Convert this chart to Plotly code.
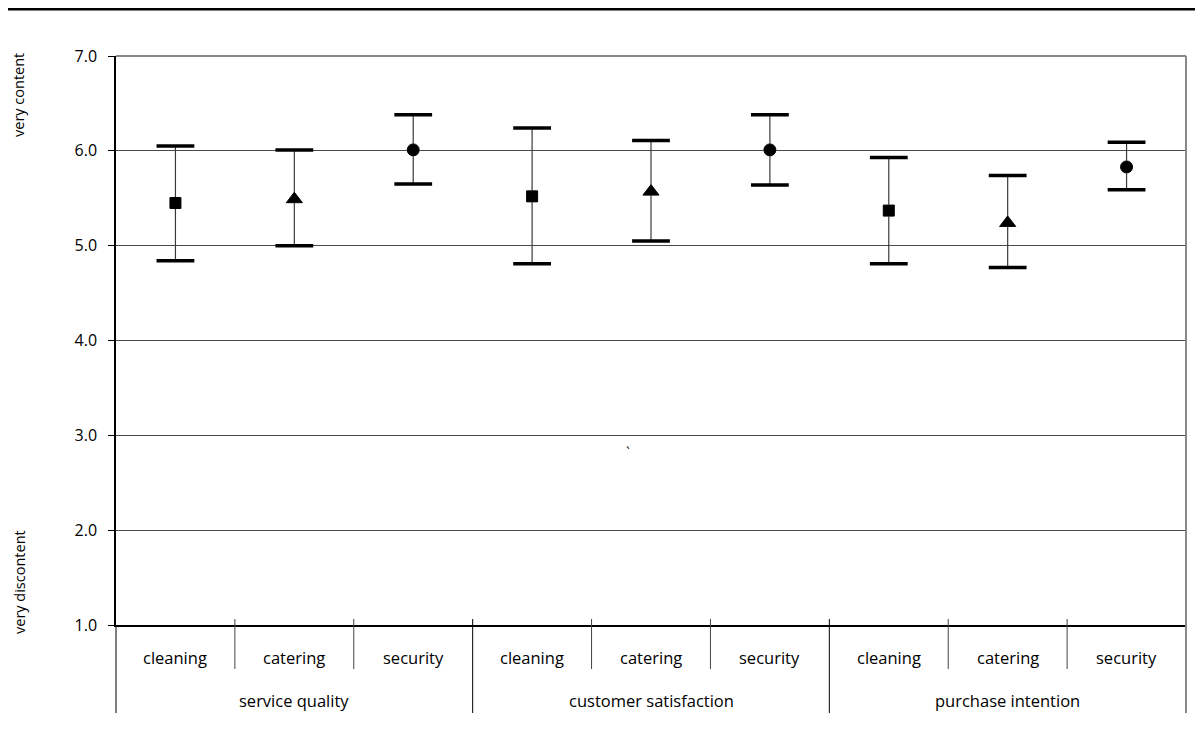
import plotly.graph_objects as go

# ---- data ----
groups = ["service quality", "customer satisfaction", "purchase intention"]
categories = ["cleaning", "catering", "security"] * 3
means = [5.45, 5.49, 6.01, 5.52, 5.57, 6.01, 5.37, 5.24, 5.83]
upper = [6.05, 6.01, 6.38, 6.24, 6.11, 6.38, 5.93, 5.74, 6.09]
lower = [4.84, 5.00, 5.65, 4.81, 5.05, 5.64, 4.81, 4.77, 5.59]
symbols_by_cat = {"cleaning": "square", "catering": "triangle-up", "security": "circle"}
sizes_by_cat = {"cleaning": 11, "catering": 14, "security": 12}
y_ticks = [1, 2, 3, 4, 5, 6, 7]

FONT = "Open Sans"
n = len(categories)
xs = list(range(n))

# page offset (browser body margin)
OFF = 8
W, H = 1203 - OFF, 751 - OFF
# target plot box in page pixels
PL, PR, PT, PB = 116, 1186, 56, 625
L, R, T, B = PL - OFF, (W + OFF) - PR, PT - OFF, (H + OFF) - PB
PH = PB - PT
PW = PR - PL


def py(pix):  # page pixel y -> paper
    return (PB - pix) / PH


def px(pix):  # page pixel x -> paper
    return (pix - PL) / PW


sym = [symbols_by_cat[c] for c in categories]
siz = [sizes_by_cat[c] for c in categories]

fig = go.Figure()
fig.add_trace(go.Scatter(
    x=xs, y=means, mode="markers",
    marker=dict(symbol=sym, size=siz, color="rgba(0,0,0,0)"),
    error_y=dict(type="data", symmetric=False,
                 array=[u - m for u, m in zip(upper, means)],
                 arrayminus=[m - l for m, l in zip(means, lower)],
                 thickness=1.2, width=0, color="#3a3a3a"),
    showlegend=False, hoverinfo="skip",
))
fig.add_trace(go.Scatter(
    x=xs + xs, y=upper + lower, mode="markers",
    marker=dict(symbol="line-ew", size=27, line=dict(width=3.5, color="black")),
    showlegend=False, hoverinfo="skip",
))
fig.add_trace(go.Scatter(
    x=xs, y=means, mode="markers",
    marker=dict(symbol=sym, size=siz, color="black", opacity=1,
                line=dict(color="black", width=1)),
    showlegend=False, hoverinfo="skip",
))

shapes = []
shapes.append(dict(type="line", xref="paper", yref="paper", x0=px(OFF), x1=px(1203),
                   y0=py(9.3), y1=py(9.3), line=dict(color="black", width=2.5)))
shapes.append(dict(type="line", xref="paper", yref="paper", x0=0, x1=1, y0=1, y1=1,
                   line=dict(color="#888888", width=2)))
shapes.append(dict(type="line", xref="paper", yref="paper", x0=1, x1=1, y0=py(713), y1=1,
                   line=dict(color="#888888", width=2)))
shapes.append(dict(type="line", xref="paper", yref="paper", x0=0, x1=0, y0=py(713), y1=0,
                   line=dict(color="black", width=1)))
for i in range(1, n):
    long_sep = (i % 3 == 0)
    shapes.append(dict(type="line", xref="paper", yref="paper", x0=i / n, x1=i / n,
                       y0=py(713 if long_sep else 669), y1=py(619),
                       line=dict(color="black" if long_sep else "#444444", width=1)))

annotations = []
for i, c in enumerate(categories):
    annotations.append(dict(xref="paper", yref="paper", x=(i + 0.5) / n, y=py(657),
                            text=c, showarrow=False, xanchor="center", yanchor="middle",
                            font=dict(family=FONT, size=16.5, color="black")))
for g_i, g in enumerate(groups):
    annotations.append(dict(xref="paper", yref="paper", x=(3 * g_i + 1.5) / n, y=py(700),
                            text=g, showarrow=False, xanchor="center", yanchor="middle",
                            font=dict(family=FONT, size=16.5, color="black")))
annotations.append(dict(xref="paper", yref="paper", x=px(19), y=py(95), text="very content",
                        textangle=-90, showarrow=False, xanchor="center", yanchor="middle",
                        font=dict(family=FONT, size=14.5, color="black")))
annotations.append(dict(xref="paper", yref="paper", x=px(19), y=py(582), text="very discontent",
                        textangle=-90, showarrow=False, xanchor="center", yanchor="middle",
                        font=dict(family=FONT, size=14.5, color="black")))
annotations.append(dict(xref="x", yref="y", x=3.81, y=2.82, text="`", showarrow=False,
                        font=dict(family=FONT, size=14, color="black")))

fig.update_layout(
    width=W, height=H,
    margin=dict(l=L, r=R, t=T, b=B),
    paper_bgcolor="white", plot_bgcolor="white",
    shapes=shapes, annotations=annotations,
    xaxis=dict(range=[-0.5, n - 0.5], showticklabels=False, showgrid=False, zeroline=False,
               showline=True, linecolor="black", linewidth=1.5, ticks=""),
    yaxis=dict(range=[1, 7], tickvals=y_ticks, ticktext=[f"{v:.1f}" for v in y_ticks],
               showgrid=True, gridcolor="#4a4a4a", gridwidth=1, zeroline=False,
               showline=True, linecolor="black", linewidth=1.5,
               ticks="outside", ticklen=6, tickcolor="black", ticklabelstandoff=8,
               tickfont=dict(family=FONT, size=16, color="black")),
)

fig.write_html("out.html")
